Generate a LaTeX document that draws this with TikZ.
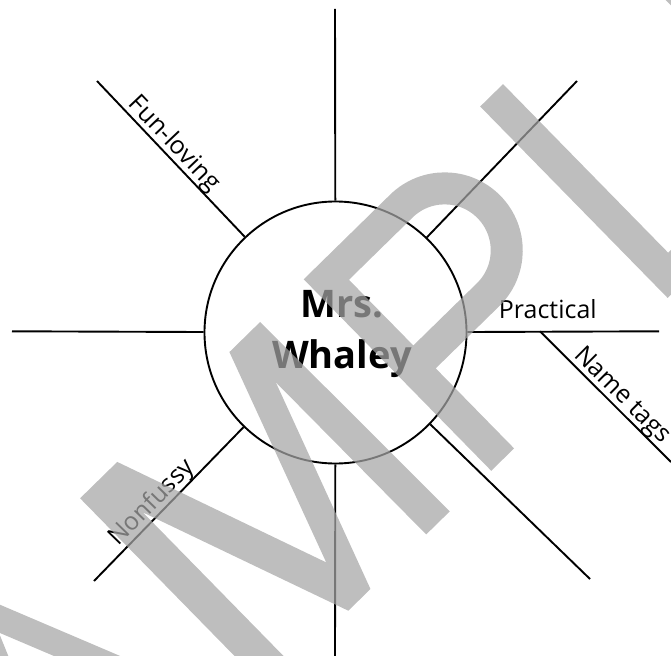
\documentclass[tikz,border=0pt]{standalone}
\usepackage{fontspec}
\setmainfont{Open Sans}
\usetikzlibrary{calc}

\definecolor{wmark}{gray}{0.647}

\tikzset{
  spoke/.style={line width=1.9bp},
  hub/.style={circle,draw,line width=1.9bp,minimum size=262bp,inner sep=0pt},
  tag/.style={sloped,above=5bp,inner sep=0pt,text depth=0pt,font=\fontsize{25bp}{30bp}\selectfont},
  bigname/.style={anchor=base,inner sep=0pt,font=\fontsize{38bp}{46bp}\selectfont\bfseries},
  stampfill/.style={fill=wmark,fill opacity=0.72},
  stampline/.style={draw=wmark,draw opacity=0.72,line width=32bp}
}

\begin{document}
\begin{tikzpicture}[x=1bp,y=1bp]

\useasboundingbox (0,0) rectangle (671,-656);

% centre circle
\node[hub] (hub) at (335.5,-332.5) {};

% spoke ends
\coordinate (tipN) at (335,-9);
\coordinate (tipS) at (335,-656);
\coordinate (tipW) at (12,-331.3);
\coordinate (tipE) at (659,-331.3);
\coordinate (tipNW) at (97,-81);
\coordinate (tipNE) at (577,-81);
\coordinate (tipSW) at (94,-581);
\coordinate (tipSE) at (590,-579);
\coordinate (fork) at (540,-331.3);
\coordinate (tipTags) at (671,-462);

% spokes
\draw[spoke] (hub) -- (tipN);
\draw[spoke] (hub) -- (tipS);
\draw[spoke] (hub) -- (tipW);
\draw[spoke] (hub) -- (tipNE);
\draw[spoke] (hub) -- (tipSE);
\draw[spoke] (tipNW) -- (hub) node[tag,pos=0.46] (funloving) {Fun-loving};
\draw[spoke] (tipSW) -- (hub) node[tag,pos=0.45] (nonfussy) {Nonfussy};
\draw[spoke] (hub) -- (tipE) node[tag,pos=0.42,above=7bp] (practical) {Practical};
\draw[spoke] (fork) -- (tipTags) node[tag,pos=0.56] (nametags) {Name tags};

% name
\node[bigname] (mrs) at (342,-317) {Mrs.};
\node[bigname] (whaley) at (342,-368) {Whaley};

% sample stamp
\begin{scope}[shift={(303,-280)},rotate=44.4]
  % A
  \fill[stampfill] (-590,-268) -- (-480,0) -- (-452,0) -- (-341,-268) -- (-369,-268)
    -- (-464,-39) -- (-558,-268) -- cycle;
  % M
  \fill[stampfill] (-312,-268) -- (-312,0) -- (-260,0) -- (-181,-218) -- (-103,0) -- (-60,0)
    -- (-57,-268) -- (-90,-268) -- (-91,-54) -- (-168,-268) -- (-199,-268) -- (-277,-54)
    -- (-277,-268) -- cycle;
  % P, L, E
  \draw[stampline] (17,-268) -- (17,-16) -- (122,-16) arc[start angle=90,end angle=-90,radius=62] -- (17,-140)
    (264,0) -- (264,-252) -- (430,-252)
    (471,0) -- (471,-268);
\end{scope}

\end{tikzpicture}
\end{document}
